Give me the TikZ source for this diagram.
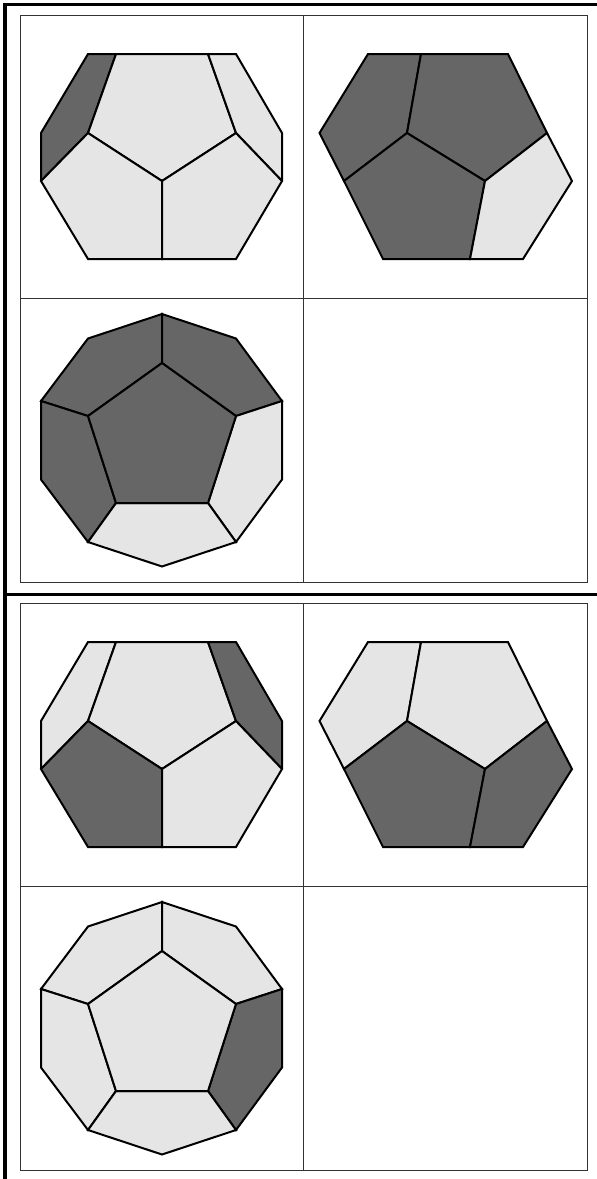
\documentclass[tikz,border=0pt]{standalone}
\definecolor{dk}{gray}{0.4}
\definecolor{lt}{gray}{0.9}
\tikzset{
  face/.style={draw=black,line width=2pt,line join=miter,miter limit=2},
  cell/.style={draw=black!80,line width=1pt},
  frameline/.style={draw=black,line width=3.6pt}
}
% #1 y offset; #2..#6 colours: left sliver, top, right sliver, bottom-left, bottom-right
\newcommand{\viewA}[6]{
\begin{scope}[yshift=-#1pt]
\draw[face,fill=#2] (88,54)--(116,54)--(88,133)--(41,181)--(41,133)--cycle;
\draw[face,fill=#3] (116,54)--(208,54)--(236,133)--(162,181)--(88,133)--cycle;
\draw[face,fill=#4] (208,54)--(236,54)--(282,133)--(282,181)--(236,133)--cycle;
\draw[face,fill=#5] (88,133)--(162,181)--(162,259)--(88,259)--(41,181)--cycle;
\draw[face,fill=#6] (236,133)--(282,181)--(236,259)--(162,259)--(162,181)--cycle;
\end{scope}}
\newcommand{\viewB}[5]{
\begin{scope}[yshift=-#1pt]
\draw[face,fill=#2] (368,54)--(421,54)--(407,133)--(344,181)--(319.5,133)--cycle;
\draw[face,fill=#3] (421,54)--(508,54)--(547,133)--(485,181)--(407,133)--cycle;
\draw[face,fill=#4] (407,133)--(485,181)--(470,259)--(383,259)--(344,181)--cycle;
\draw[face,fill=#5] (547,133)--(572,181)--(523,259)--(470,259)--(485,181)--cycle;
\end{scope}}
% #2 centre, #3 top-left, #4 top-right, #5 left, #6 right, #7 bottom
\newcommand{\viewC}[7]{
\begin{scope}[yshift=-#1pt]
\draw[face,fill=#3] (162,314)--(88,338.5)--(41,401)--(88,416)--(162,363)--cycle;
\draw[face,fill=#4] (162,314)--(236,338.5)--(282,401)--(236,416)--(162,363)--cycle;
\draw[face,fill=#5] (41,401)--(88,416)--(116,503)--(88,542)--(41,479.5)--cycle;
\draw[face,fill=#6] (282,401)--(236,416)--(208,503)--(236,542)--(282,479.5)--cycle;
\draw[face,fill=#7] (116,503)--(208,503)--(236,542)--(162,566.5)--(88,542)--cycle;
\draw[face,fill=#2] (162,363)--(236,416)--(208,503)--(116,503)--(88,416)--cycle;
\end{scope}}
\newcommand{\cells}[1]{
\begin{scope}[yshift=-#1pt]
\draw[cell] (20,15.5) rectangle (587.5,582.5);
\draw[cell] (303.5,15.5)--(303.5,582.5);
\draw[cell] (20,298.5)--(587.5,298.5);
\end{scope}}
\begin{document}
\begin{tikzpicture}[x=1pt,y=-1pt]
\useasboundingbox (0,0) rectangle (597,1179);
\fill[white] (0,0) rectangle (597,1179);
\cells{0}
\cells{588}
\viewA{0}{dk}{lt}{lt}{lt}{lt}
\viewB{0}{dk}{dk}{dk}{lt}
\viewC{0}{dk}{dk}{dk}{dk}{lt}{lt}
\viewA{588}{lt}{lt}{dk}{dk}{lt}
\viewB{588}{lt}{lt}{dk}{dk}
\viewC{588}{lt}{lt}{lt}{lt}{dk}{lt}
\draw[frameline] (5,1179)--(5,4.5)--(597,4.5);
\draw[frameline] (5,594.3)--(597,594.3);
\end{tikzpicture}
\end{document}
